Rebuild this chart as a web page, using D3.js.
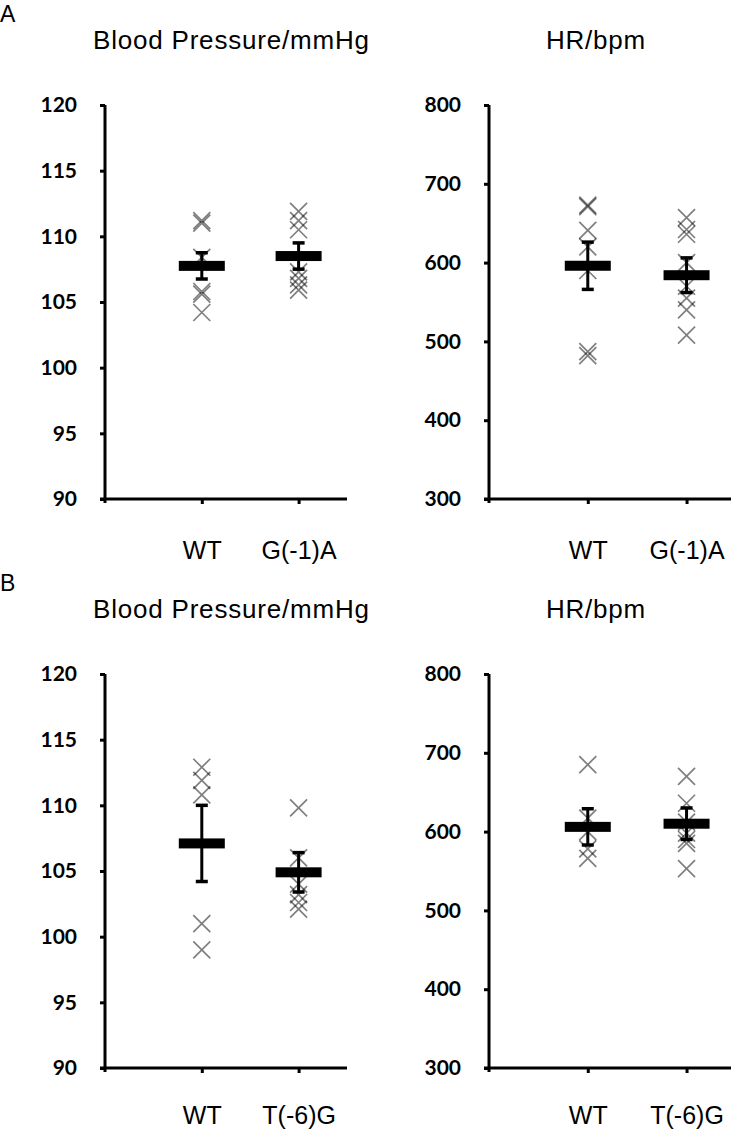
<!DOCTYPE html>
<html>
<head>
<meta charset="utf-8">
<script src="https://cdn.jsdelivr.net/npm/d3@7"></script>
<style>
  html, body { margin: 0; padding: 0; background: #fff; }
  svg { display: block; }
</style>
</head>
<body>
<svg id="chart" width="740" height="1131"></svg>
<script>
// ---------- data ----------
const panelLetters = ["A", "B"];
const titles = ["Blood Pressure/mmHg", "HR/bpm"];
const catsA = ["WT", "G(-1)A"];
const catsB = ["WT", "T(-6)G"];
const yTicksBP = [90, 95, 100, 105, 110, 115, 120];
const yTicksHR = [300, 400, 500, 600, 700, 800];

// Panel A – blood pressure
const bpA_WT  = [111.2, 111.0, 108.4, 105.8, 105.6, 104.2];
const bpA_Mut = [111.9, 111.2, 110.5, 107.3, 106.8, 106.3, 105.9];
const bpA_mean = [107.75, 108.5];
const bpA_sem  = [1.0, 1.0];
// Panel A – heart rate
const hrA_WT  = [673, 671, 641, 620, 590, 487, 482];
const hrA_Mut = [657, 642, 636, 600, 570, 555, 540, 508];
const hrA_mean = [596, 584];
const hrA_sem  = [30, 22];
// Panel B – blood pressure
const bpB_WT  = [112.9, 111.9, 110.8, 101.0, 99.0];
const bpB_Mut = [109.8, 106.0, 104.0, 103.2, 102.6, 102.1];
const bpB_mean = [107.1, 104.9];
const bpB_sem  = [2.9, 1.5];
// Panel B – heart rate
const hrB_WT  = [685, 617, 600, 578, 566];
const hrB_Mut = [670, 636, 612, 598, 590, 585, 553];
const hrB_mean = [606, 610];
const hrB_sem  = [23, 20];

// ---------- drawing ----------
const svg = d3.select("#chart");
const tickFont = "Lato, 'Noto Sans', sans-serif";
const textFont = "'Liberation Sans', Arial, sans-serif";

const rows = [
  { top: 105, bottom: 499, offset: 0, labelY: 42, cats: catsA,
    panels: [
      { ticks: yTicksBP, pts: [bpA_WT, bpA_Mut], mean: bpA_mean, sem: bpA_sem },
      { ticks: yTicksHR, pts: [hrA_WT, hrA_Mut], mean: hrA_mean, sem: hrA_sem }
    ] },
  { top: 674, bottom: 1068, offset: 569, labelY: 38, cats: catsB,
    panels: [
      { ticks: yTicksBP, pts: [bpB_WT, bpB_Mut], mean: bpB_mean, sem: bpB_sem },
      { ticks: yTicksHR, pts: [hrB_WT, hrB_Mut], mean: hrB_mean, sem: hrB_sem }
    ] }
];
const colX = [
  { left: 105, right: 347, dom: [-1, 1.5], titleX: 93, titleAnchor: "start" },
  { left: 489, right: 731, dom: [-1, 1.45], titleX: 596, titleAnchor: "middle" }
];

rows.forEach((row, ri) => {
  svg.append("text")
    .attr("x", 0).attr("y", 22 + row.offset)
    .attr("font-family", textFont).attr("font-size", 23)
    .text(panelLetters[ri]);

  row.panels.forEach((p, ci) => {
    const c = colX[ci];
    const y = d3.scaleLinear().domain(d3.extent(p.ticks)).range([row.bottom, row.top]);
    const x = d3.scaleLinear().domain(c.dom).range([c.left, c.right]);
    const g = svg.append("g");

    // title
    g.append("text")
      .attr("x", c.titleX).attr("y", 49 + row.offset)
      .attr("text-anchor", c.titleAnchor)
      .attr("font-family", textFont).attr("font-size", 26)
      .attr("letter-spacing", 0.8)
      .text(titles[ci]);

    // y axis
    const ya = g.append("g").attr("transform", `translate(${c.left},0)`)
      .call(d3.axisLeft(y).tickValues(p.ticks).tickSize(5).tickSizeOuter(0).tickPadding(23));
    ya.select(".domain").attr("stroke", "#000").attr("stroke-width", 3)
      .attr("d", `M0,${y.range()[0] + 4}V${y.range()[1]}`);
    ya.selectAll(".tick line").attr("stroke", "#000").attr("stroke-width", 3);
    ya.selectAll(".tick text").attr("font-family", tickFont).attr("font-weight", "bold")
      .attr("font-size", 21).attr("fill", "#000");

    // x axis
    const xa = g.append("g").attr("transform", `translate(0,${row.bottom})`)
      .call(d3.axisBottom(x).tickValues([0, 1]).tickFormat(i => row.cats[i])
        .tickSize(5).tickSizeOuter(0).tickPadding(40));
    xa.select(".domain").attr("stroke", "#000").attr("stroke-width", 3)
      .attr("d", `M${c.left - 5},0H${c.right}`);
    xa.selectAll(".tick line").attr("stroke", "#000").attr("stroke-width", 3);
    xa.selectAll(".tick text").attr("font-family", textFont)
      .attr("font-size", 25).attr("fill", "#000").attr("dy", "0.71em")
      .attr("y", row.labelY);

    // individual points (crosses)
    p.pts.forEach((arr, gi) => {
      g.selectAll(null).data(arr).enter().append("path")
        .attr("transform", d => `translate(${x(gi)},${y(d)})`)
        .attr("d", "M-8.5,-8.5L8.5,8.5M-8.5,8.5L8.5,-8.5")
        .attr("stroke", "#000").attr("stroke-opacity", 0.5)
        .attr("stroke-width", 1.7).attr("fill", "none");
    });

    // error bars
    const idx = [0, 1];
    g.selectAll(null).data(idx).enter().append("line")
      .attr("x1", i => x(i)).attr("x2", i => x(i))
      .attr("y1", i => y(p.mean[i] - p.sem[i])).attr("y2", i => y(p.mean[i] + p.sem[i]))
      .attr("stroke", "#000").attr("stroke-width", 3);
    [1, -1].forEach(s => {
      g.selectAll(null).data(idx).enter().append("line")
        .attr("x1", i => x(i) - 6).attr("x2", i => x(i) + 6)
        .attr("y1", i => y(p.mean[i] + s * p.sem[i])).attr("y2", i => y(p.mean[i] + s * p.sem[i]))
        .attr("stroke", "#000").attr("stroke-width", 3.5);
    });
    // mean bars
    g.selectAll(null).data(idx).enter().append("rect")
      .attr("x", i => x(i) - 23).attr("width", 46)
      .attr("y", i => y(p.mean[i]) - 5).attr("height", 10)
      .attr("fill", "#000");
  });
});
</script>
</body>
</html>
